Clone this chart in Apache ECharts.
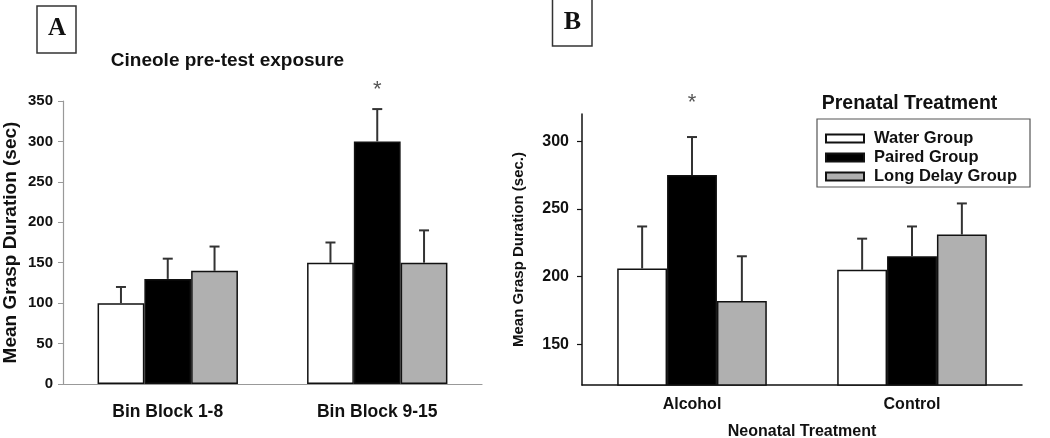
<!DOCTYPE html>
<html>
<head>
<meta charset="utf-8">
<script src="https://cdn.jsdelivr.net/npm/echarts@6/dist/echarts.min.js"></script>
<style>
html,body{margin:0;padding:0;background:#fff;}
#chart{width:1050px;height:438px;}
</style>
</head>
<body>
<div id="chart"></div>
<script>
// ---- Data ----
const groupNames = ['Water Group', 'Paired Group', 'Long Delay Group'];

// Panel A
const categoriesA = ['Bin Block 1-8', 'Bin Block 9-15'];
const waterA = [100, 150];
const waterA_errTop = [120, 175];
const pairedA = [130, 300];
const pairedA_errTop = [155, 340];
const longA = [140, 150];
const longA_errTop = [170, 190];
const starA = [0, 1];
const yTicksA = [0, 50, 100, 150, 200, 250, 300, 350];

// Panel B
const categoriesB = ['Alcohol', 'Control'];
const waterB = [206, 205];
const waterB_errTop = [237, 228];
const pairedB = [275, 215];
const pairedB_errTop = [303, 237];
const longB = [182, 231];
const longB_errTop = [215, 254];
const starB = [1, 0];
const yTicksB = [150, 200, 250, 300];

// ---- Styles ----
const FONT = 'Liberation Sans';
const fills = ['#ffffff', '#000000', '#b0b0b0'];
const GAP_A = 0.33, GAP_B = 0.32;

function barSeries(name, k, data, xi, gap) {
  return {
    type: 'bar', name: name, xAxisIndex: xi, yAxisIndex: xi,
    data: data, barGap: '0%', barCategoryGap: (gap * 100) + '%',
    itemStyle: { color: fills[k], borderColor: '#111', borderWidth: 1.5 },
    emphasis: { disabled: true }, z: 2
  };
}

function errSeries(k, means, tops, xi, gap, stars, starOffset) {
  return {
    type: 'custom', name: 'err' + xi + '_' + k, xAxisIndex: xi, yAxisIndex: xi,
    data: means.map((m, i) => [i, m, tops[i], stars ? stars[i] : 0]),
    encode: { x: 0, y: [1, 2] },
    clip: false, z: 5, silent: true,
    renderItem: function (params, api) {
      const i = api.value(0);
      const base = api.coord([i, api.value(1)]);
      const top = api.coord([i, api.value(2)]);
      const bw = api.size([1, 0])[0];
      const barW = bw * (1 - gap) / 3;
      const x = base[0] + (k - 1) * barW;
      const children = [
        { type: 'line', shape: { x1: x, y1: base[1], x2: x, y2: top[1] },
          style: { stroke: '#333', lineWidth: 2 } },
        { type: 'line', shape: { x1: x - 5, y1: top[1], x2: x + 5, y2: top[1] },
          style: { stroke: '#333', lineWidth: 2 } }
      ];
      if (api.value(3)) {
        children.push({ type: 'text', x: x, y: top[1] - starOffset,
          style: { text: '*', fill: '#555', fontSize: 22, fontFamily: FONT,
                   align: 'center', verticalAlign: 'middle' } });
      }
      return { type: 'group', children: children };
    }
  };
}

const chart = echarts.init(document.getElementById('chart'), null, { renderer: 'canvas' });

const option = {
  animation: false,
  backgroundColor: '#ffffff',
  textStyle: { fontFamily: FONT },
  title: [
    { text: 'Cineole pre-test exposure', left: 222.5, top: 46, textAlign: 'center',
      textStyle: { fontSize: 19, fontWeight: 'bold', color: '#111', fontFamily: FONT } },
    { text: 'Prenatal Treatment', left: 904.5, top: 89, textAlign: 'center',
      textStyle: { fontSize: 19.5, fontWeight: 'bold', color: '#111', fontFamily: FONT } }
  ],
  legend: {
    data: groupNames, orient: 'vertical', left: 817, top: 119,
    padding: [11, 13, 2, 8], itemWidth: 38, itemHeight: 8, itemGap: 2,
    icon: 'rect', borderColor: '#555', borderWidth: 1.2, selectedMode: false,
    textStyle: { fontSize: 16.5, fontWeight: 'bold', color: '#111', fontFamily: FONT, padding: [0, 0, 0, 5] }
  },
  grid: [
    { left: 63, top: 101, width: 419, height: 283, containLabel: false, outerBoundsMode: 'none' },
    { left: 582, top: 114, width: 440, height: 271, containLabel: false, outerBoundsMode: 'none' }
  ],
  xAxis: [
    { type: 'category', gridIndex: 0, data: categoriesA,
      axisLine: { lineStyle: { color: '#999', width: 1.2 } },
      axisTick: { show: false },
      axisLabel: { fontSize: 17.5, fontWeight: 'bold', color: '#111', margin: 19, fontFamily: FONT } },
    { type: 'category', gridIndex: 1, data: categoriesB,
      axisLine: { lineStyle: { color: '#111', width: 1.5 } },
      axisTick: { alignWithLabel: true, length: 5, lineStyle: { color: '#111', width: 1.2 } },
      axisLabel: { fontSize: 16, fontWeight: 'bold', color: '#111', margin: 12, fontFamily: FONT },
      name: 'Neonatal Treatment', nameLocation: 'middle', nameGap: 39,
      nameTextStyle: { fontSize: 16, fontWeight: 'bold', color: '#111', fontFamily: FONT } }
  ],
  yAxis: [
    { type: 'value', gridIndex: 0, min: 0, max: 350, interval: 50,
      axisLine: { show: true, lineStyle: { color: '#999', width: 1.2 } },
      axisTick: { show: true, length: 5, lineStyle: { color: '#999' } },
      splitLine: { show: false },
      axisLabel: { fontSize: 15, fontWeight: 'bold', color: '#111', margin: 10, fontFamily: FONT,
                   customValues: yTicksA },
      name: 'Mean Grasp Duration (sec)', nameLocation: 'middle', nameGap: 43,
      nameTextStyle: { fontSize: 19, fontWeight: 'bold', color: '#111', fontFamily: FONT } },
    { type: 'value', gridIndex: 1, min: 120, max: 320,
      axisLine: { show: true, lineStyle: { color: '#111', width: 1.5 } },
      axisTick: { show: true, length: 5, lineStyle: { color: '#111', width: 1.2 }, customValues: yTicksB },
      splitLine: { show: false },
      axisLabel: { fontSize: 16, fontWeight: 'bold', color: '#111', margin: 13, fontFamily: FONT,
                   customValues: yTicksB },
      name: 'Mean Grasp Duration (sec.)', nameLocation: 'middle', nameGap: 56,
      nameTextStyle: { fontSize: 15, fontWeight: 'bold', color: '#111', fontFamily: FONT } }
  ],
  graphic: [
    { type: 'rect', shape: { x: 37, y: 6, width: 39, height: 47 },
      style: { fill: 'none', stroke: '#333', lineWidth: 1.5 } },
    { type: 'text', x: 57, y: 29,
      style: { text: 'A', fontSize: 25, fontWeight: 'bold', fontFamily: 'Liberation Serif',
               fill: '#111', align: 'center', verticalAlign: 'middle' } },
    { type: 'rect', shape: { x: 552.5, y: -1, width: 39.5, height: 47 },
      style: { fill: 'none', stroke: '#333', lineWidth: 1.5 } },
    { type: 'text', x: 572.5, y: 22,
      style: { text: 'B', fontSize: 26, fontWeight: 'bold', fontFamily: 'Liberation Serif',
               fill: '#111', align: 'center', verticalAlign: 'middle' } }
  ],
  series: [
    barSeries(groupNames[0], 0, waterA, 0, GAP_A),
    barSeries(groupNames[1], 1, pairedA, 0, GAP_A),
    barSeries(groupNames[2], 2, longA, 0, GAP_A),
    errSeries(0, waterA, waterA_errTop, 0, GAP_A, null, 0),
    errSeries(1, pairedA, pairedA_errTop, 0, GAP_A, starA, 19),
    errSeries(2, longA, longA_errTop, 0, GAP_A, null, 0),
    barSeries(groupNames[0], 0, waterB, 1, GAP_B),
    barSeries(groupNames[1], 1, pairedB, 1, GAP_B),
    barSeries(groupNames[2], 2, longB, 1, GAP_B),
    errSeries(0, waterB, waterB_errTop, 1, GAP_B, null, 0),
    errSeries(1, pairedB, pairedB_errTop, 1, GAP_B, starB, 34),
    errSeries(2, longB, longB_errTop, 1, GAP_B, null, 0)
  ]
};
chart.setOption(option);
</script>
</body>
</html>
